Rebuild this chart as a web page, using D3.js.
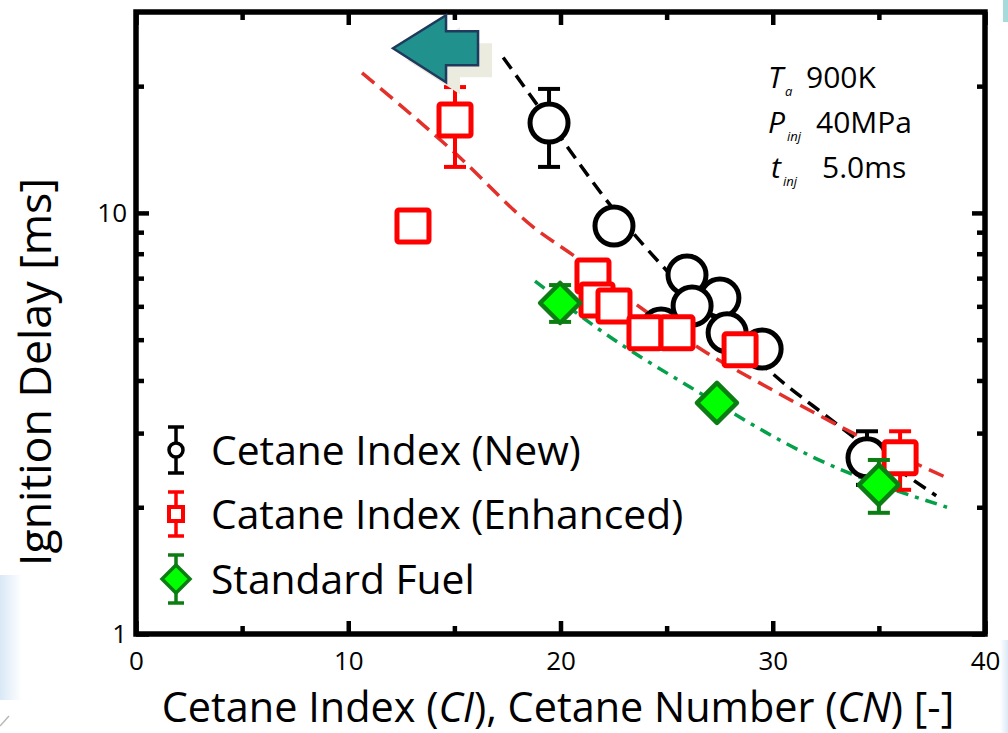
<!DOCTYPE html>
<html>
<head>
<meta charset="utf-8">
<script src="https://cdn.jsdelivr.net/npm/d3@7"></script>
<style>
  html, body { margin: 0; padding: 0; background: #fff; }
  svg { display: block; font-family: "Open Sans", Lato, sans-serif; }
</style>
</head>
<body>
<svg id="chart" width="1008" height="733"></svg>
<script>
// ---- Measured ignition delay data ----
// Cetane Index (New)
const newCI    = [24.74, 19.46, 22.52, 25.96, 27.51, 26.2, 27.85, 29.5, 34.44];
const newDelay = [5.33, 16.35, 9.31, 7.12, 6.28, 6.01, 5.19, 4.75, 2.62];
const newLow   = [null, 12.86, null, null, null, null, null, null, 2.26];
const newHigh  = [null, 19.7, null, null, null, null, null, null, 3.03];

// Catane Index (Enhanced)
const enhCI    = [15.03, 13.05, 21.53, 21.72, 22.52, 23.98, 25.49, 28.46, 36.0];
const enhDelay = [16.62, 9.31, 7.08, 6.21, 6.01, 5.19, 5.19, 4.73, 2.62];
const enhLow   = [12.86, null, null, null, null, null, null, null, 2.2];
const enhHigh  = [19.9, null, null, null, null, null, null, null, 3.03];

// Standard Fuel
const stdCN    = [19.98, 27.37, 35.0];
const stdDelay = [6.11, 3.54, 2.26];
const stdLow   = [5.51, null, 1.94];
const stdHigh  = [6.74, null, 2.59];

// Fitted trend curves (sampled along each fit)
const newFitX = [17.3, 19.5, 22.5, 25, 27.5, 30, 32.5, 35, 37.7];
const newFitY = [23.4, 16.4, 10.2, 7.3, 5.5, 4.15, 3.3, 2.65, 2.13];
const enhFitX = [10.65, 14.98, 18.89, 20.59, 23.5, 26.9, 29.73, 34.72, 38.12];
const enhFitY = [21.5, 13.95, 9.11, 7.94, 6.1, 4.65, 3.86, 2.84, 2.36];
const stdFitX = [18.8, 21.86, 26.1, 31.9, 38.21];
const stdFitY = [6.89, 5.27, 3.86, 2.63, 2.0];

// Axis ticks
const xMajorTicks = [0, 10, 20, 30, 40];
const xMinorTicks = [5, 15, 25, 35];
const yMajorTicks = [1, 10];
const yMinorTicks = [2, 3, 4, 5, 6, 7, 8, 9, 20];

// Text
const legendLabels = ["Cetane Index (New)", "Catane Index (Enhanced)", "Standard Fuel"];
const condSymbols  = ["T", "P", "t"];
const condSubs     = ["a", "inj", "inj"];
const condValues   = ["900K", "40MPa", "5.0ms"];
const xTitle = ["Cetane Index (", "CI", "), Cetane Number (", "CN", ") [-]"];
const yTitle = "Ignition Delay [ms]";
// Arrow marker pointing toward lower cetane numbers (tip location in data units)
const arrowTip = { ci: 12.11, delay: 24.6 };

// ---- Scales ----
const svg = d3.select("#chart");
const x = d3.scaleLinear().domain([0, 40]).range([136, 985]);
const y = d3.scaleLog().domain([1, 30]).range([634, 12]);

// ---- Faint background edges ----
const defs = svg.append("defs");
const gl = defs.append("linearGradient").attr("id", "edgeL").attr("x1", 0).attr("x2", 1);
gl.append("stop").attr("offset", 0).attr("stop-color", "#d9e8f6");
gl.append("stop").attr("offset", 1).attr("stop-color", "#ffffff");
const gr = defs.append("linearGradient").attr("id", "edgeR").attr("x1", 1).attr("x2", 0);
gr.append("stop").attr("offset", 0).attr("stop-color", "#dbe9f6");
gr.append("stop").attr("offset", 1).attr("stop-color", "#ffffff");
svg.append("rect").attr("x", 0).attr("y", 575).attr("width", 22).attr("height", 125).attr("fill", "url(#edgeL)");
svg.append("line").attr("x1", 0).attr("y1", 726).attr("x2", 9).attr("y2", 716)
  .attr("stroke", "#b8b8b8").attr("stroke-width", 1.5);
svg.append("rect").attr("x", 1000).attr("y", 640).attr("width", 8).attr("height", 93).attr("fill", "url(#edgeR)");
svg.append("rect").attr("x", 1003).attr("y", 0).attr("width", 5).attr("height", 22).attr("fill", "#a6dadb");

// ---- Axes (ticks pointing inward on all four sides) ----
function styleAxis(g, width) {
  g.select(".domain").remove();
  g.selectAll(".tick line").attr("stroke", "#000").attr("stroke-width", width);
  g.attr("font-family", null).attr("font-size", null);
}
const majorLen = 13, minorLen = 8, tickW = 4.5;

svg.append("g").attr("transform", `translate(0,${y(1)})`)
  .call(d3.axisBottom(x).tickValues(xMajorTicks).tickSize(-majorLen).tickPadding(18).tickFormat(d3.format("d")))
  .call(g => styleAxis(g, tickW))
  .call(g => g.selectAll("text").attr("font-size", 26).attr("fill", "#000"));
svg.append("g").attr("transform", `translate(0,${y(1)})`)
  .call(d3.axisBottom(x).tickValues(xMinorTicks).tickSize(-minorLen).tickFormat(""))
  .call(g => styleAxis(g, tickW));
svg.append("g").attr("transform", `translate(0,${y(30)})`)
  .call(d3.axisTop(x).tickValues(xMajorTicks).tickSize(-majorLen).tickFormat(""))
  .call(g => styleAxis(g, tickW));
svg.append("g").attr("transform", `translate(0,${y(30)})`)
  .call(d3.axisTop(x).tickValues(xMinorTicks).tickSize(-minorLen).tickFormat(""))
  .call(g => styleAxis(g, tickW));

svg.append("g").attr("transform", `translate(${x(0)},0)`)
  .call(d3.axisLeft(y).tickValues(yMajorTicks).tickSize(-majorLen).tickPadding(9).tickFormat(d3.format("d")))
  .call(g => styleAxis(g, tickW))
  .call(g => g.selectAll("text").attr("font-size", 26).attr("fill", "#000"));
svg.append("g").attr("transform", `translate(${x(0)},0)`)
  .call(d3.axisLeft(y).tickValues(yMinorTicks).tickSize(-minorLen).tickFormat(""))
  .call(g => styleAxis(g, tickW));
svg.append("g").attr("transform", `translate(${x(40)},0)`)
  .call(d3.axisRight(y).tickValues(yMajorTicks).tickSize(-majorLen).tickFormat(""))
  .call(g => styleAxis(g, tickW));
svg.append("g").attr("transform", `translate(${x(40)},0)`)
  .call(d3.axisRight(y).tickValues(yMinorTicks).tickSize(-minorLen).tickFormat(""))
  .call(g => styleAxis(g, tickW));

// Plot frame
svg.append("rect")
  .attr("x", x(0)).attr("y", y(30))
  .attr("width", x(40) - x(0)).attr("height", y(1) - y(30))
  .attr("fill", "none").attr("stroke", "#000").attr("stroke-width", 5.5);

// ---- Axis titles ----
const xt = svg.append("text").attr("x", 558).attr("y", 722)
  .attr("text-anchor", "middle").attr("font-size", 41.4).attr("fill", "#000");
xTitle.forEach((s, i) => xt.append("tspan").text(s).attr("font-style", i % 2 ? "italic" : null));

svg.append("text")
  .attr("transform", "translate(51,372) rotate(-90)")
  .attr("text-anchor", "middle").attr("font-size", 44.7).attr("fill", "#000")
  .text(yTitle);

// ---- Fit curves ----
const line = d3.line().x(d => x(d[0])).y(d => y(d[1])).curve(d3.curveMonotoneX);
const fits = [
  { xs: newFitX, ys: newFitY, color: "#000000", dash: "14,8" },
  { xs: enhFitX, ys: enhFitY, color: "#e3302b", dash: "16,8" },
  { xs: stdFitX, ys: stdFitY, color: "#05a04a", dash: "12,7,4,7" }
];
fits.forEach(f => {
  svg.append("path")
    .datum(d3.zip(f.xs, f.ys))
    .attr("d", line)
    .attr("fill", "none")
    .attr("stroke", f.color)
    .attr("stroke-width", 3.5)
    .attr("stroke-dasharray", f.dash);
});

// ---- Data series ----
function seriesRows(xs, ys, lo, hi) {
  return xs.map((v, i) => ({ x: v, y: ys[i], lo: lo[i], hi: hi[i] }));
}
function drawErrors(g, rows, color, capW, sw) {
  const eb = g.selectAll("g.err").data(rows.filter(d => d.lo != null)).join("g").attr("class", "err")
    .attr("stroke", color).attr("stroke-width", sw).attr("fill", "none");
  eb.append("line").attr("x1", d => x(d.x)).attr("x2", d => x(d.x)).attr("y1", d => y(d.lo)).attr("y2", d => y(d.hi));
  eb.append("line").attr("x1", d => x(d.x) - capW / 2).attr("x2", d => x(d.x) + capW / 2).attr("y1", d => y(d.lo)).attr("y2", d => y(d.lo));
  eb.append("line").attr("x1", d => x(d.x) - capW / 2).attr("x2", d => x(d.x) + capW / 2).attr("y1", d => y(d.hi)).attr("y2", d => y(d.hi));
}

const newRows = seriesRows(newCI, newDelay, newLow, newHigh);
const enhRows = seriesRows(enhCI, enhDelay, enhLow, enhHigh);
const stdRows = seriesRows(stdCN, stdDelay, stdLow, stdHigh);

// Cetane Index (New): open circles
const gNew = svg.append("g");
drawErrors(gNew, newRows, "#000", 22, 4);
gNew.selectAll("circle").data(newRows).join("circle")
  .attr("cx", d => x(d.x)).attr("cy", d => y(d.y)).attr("r", 19)
  .attr("fill", "#fff").attr("stroke", "#000").attr("stroke-width", 5);

// Catane Index (Enhanced): open squares
const gEnh = svg.append("g");
drawErrors(gEnh, enhRows, "#ff0000", 22, 4);
gEnh.selectAll("rect.m").data(enhRows).join("rect").attr("class", "m")
  .attr("x", d => x(d.x) - 16).attr("y", d => y(d.y) - 16)
  .attr("width", 32).attr("height", 32).attr("rx", 2)
  .attr("fill", "#fff").attr("stroke", "#ff0000").attr("stroke-width", 5);

// Standard Fuel: filled diamonds
const diamond = (cx, cy, h) => `M${cx},${cy - h}L${cx + h},${cy}L${cx},${cy + h}L${cx - h},${cy}Z`;
const gStd = svg.append("g");
drawErrors(gStd, stdRows, "#0c7d12", 22, 4);
gStd.selectAll("path.m").data(stdRows).join("path").attr("class", "m")
  .attr("d", d => diamond(x(d.x), y(d.y), 20))
  .attr("fill", "#00ff00").attr("stroke", "#0c7d12").attr("stroke-width", 4.5)
  .attr("stroke-linejoin", "round");

// ---- Arrow marker ----
const ax = x(arrowTip.ci), ay = y(arrowTip.delay);
const arrowPath = (dx, dy) => {
  const p = [[0, 0], [53, -33], [53, -17], [85, -17], [85, 17], [53, 17], [53, 34]];
  return "M" + p.map(q => [ax + q[0] + dx, ay + q[1] + dy].join(",")).join("L") + "Z";
};
svg.append("path").attr("d", arrowPath(14, 12)).attr("fill", "#ecebe0");
svg.append("path").attr("d", arrowPath(0, 0))
  .attr("fill", "#21918d").attr("stroke", "#1f3a5c").attr("stroke-width", 2.5)
  .attr("stroke-linejoin", "miter");

// ---- Legend ----
const legend = svg.append("g");
const legY = [450, 514, 579];
const legX = 176;
legendLabels.forEach((lab, i) => {
  legend.append("text").attr("x", 211).attr("y", legY[i] + 15)
    .attr("font-size", 40.8).attr("fill", "#000").text(lab);
});
// legend symbols (smaller copies of the plot markers with error bars)
const legSym = [
  { color: "#000", half: 23 },
  { color: "#ff0000", half: 22 },
  { color: "#0c7d12", half: 24 }
];
legSym.forEach((s, i) => {
  const cy = legY[i];
  const g = legend.append("g").attr("stroke", s.color).attr("stroke-width", 3.5);
  g.append("line").attr("x1", legX).attr("x2", legX).attr("y1", cy - s.half).attr("y2", cy + s.half);
  g.append("line").attr("x1", legX - 8).attr("x2", legX + 8).attr("y1", cy - s.half).attr("y2", cy - s.half);
  g.append("line").attr("x1", legX - 8).attr("x2", legX + 8).attr("y1", cy + s.half).attr("y2", cy + s.half);
});
legend.append("circle").attr("cx", legX).attr("cy", legY[0]).attr("r", 7)
  .attr("fill", "#fff").attr("stroke", "#000").attr("stroke-width", 3.5);
legend.append("rect").attr("x", legX - 7).attr("y", legY[1] - 7).attr("width", 14).attr("height", 14)
  .attr("fill", "#fff").attr("stroke", "#ff0000").attr("stroke-width", 4);
legend.append("path").attr("d", diamond(legX, legY[2], 14))
  .attr("fill", "#00ff00").attr("stroke", "#0c7d12").attr("stroke-width", 3.5);

// ---- Test conditions ----
const condY = [88, 133, 178];
const condX = [768, 768, 771];
const condValueX = [806, 816, 822];
condSymbols.forEach((sym, i) => {
  const t = svg.append("text").attr("x", condX[i]).attr("y", condY[i]).attr("font-size", 30).attr("fill", "#000");
  t.append("tspan").attr("font-style", "italic").text(sym);
  t.append("tspan").attr("font-style", "italic").attr("font-size", 13).attr("dy", 8).attr("dx", 2).text(condSubs[i]);
  t.append("tspan").attr("x", condValueX[i]).attr("y", condY[i]).text(condValues[i]);
});
</script>
</body>
</html>
